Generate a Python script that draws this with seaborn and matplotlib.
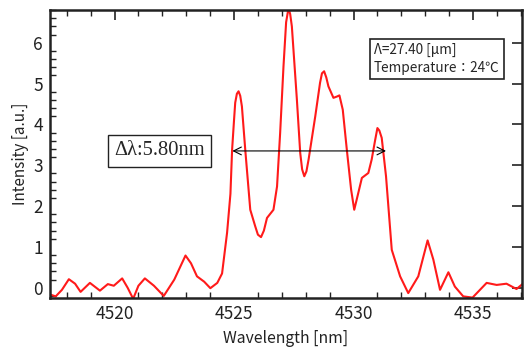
import numpy as np
import pandas as pd
import seaborn as sns
import matplotlib
matplotlib.use("Agg")
import matplotlib.pyplot as plt
from matplotlib.ticker import MultipleLocator

wavelength = [4517.33, 4517.54, 4517.80, 4518.09, 4518.35, 4518.58, 4518.97, 4519.39, 4519.72,
              4519.97, 4520.32, 4520.55, 4520.78, 4521.00, 4521.27, 4521.65, 4522.06, 4522.50,
              4522.97, 4523.20, 4523.45, 4523.75, 4524.01, 4524.30, 4524.50, 4524.71, 4524.85,
              4524.92, 4525.00, 4525.05, 4525.12, 4525.19, 4525.26, 4525.33, 4525.47, 4525.68,
              4525.89, 4526.00, 4526.13, 4526.25, 4526.38,
              4526.65, 4526.80, 4526.93, 4527.07, 4527.18, 4527.28, 4527.35, 4527.42, 4527.63,
              4527.77, 4527.85, 4527.94, 4528.03,
              4528.12, 4528.40, 4528.60, 4528.68, 4528.77, 4528.86, 4528.95, 4529.16, 4529.30,
              4529.41, 4529.55, 4529.72, 4529.90,
              4530.03, 4530.15, 4530.35, 4530.62, 4530.76, 4530.90, 4531.00, 4531.08, 4531.18,
              4531.36, 4531.60, 4531.95,
              4532.29, 4532.71, 4533.10, 4533.34, 4533.62, 4533.97, 4534.24, 4534.59, 4534.98,
              4535.57, 4535.99, 4536.40, 4536.82, 4537.13]
intensity = [-0.17, -0.21, -0.05, 0.21, 0.10, -0.10, 0.12, -0.07, 0.09,
             0.05, 0.23, 0.00, -0.27, 0.05, 0.23, 0.05, -0.20, 0.20,
             0.79, 0.60, 0.28, 0.15, -0.01, 0.12, 0.35, 1.35, 2.30,
             3.38, 4.10, 4.53, 4.75, 4.81, 4.70, 4.44, 3.38, 1.91,
             1.50, 1.30, 1.24, 1.40, 1.71,
             1.91, 2.48, 3.79, 5.42, 6.50, 6.85, 6.70, 6.40, 4.61,
             3.30, 2.90, 2.73, 2.85,
             3.14, 4.20, 5.02, 5.25, 5.30, 5.15, 4.93, 4.65, 4.68,
             4.71, 4.36, 3.38, 2.40,
             1.91, 2.20, 2.69, 2.81, 3.14, 3.60, 3.91, 3.85, 3.67,
             2.73, 0.93, 0.28,
             -0.13, 0.28, 1.16, 0.69, -0.05, 0.38, 0.03, -0.21, -0.24,
             0.12, 0.07, 0.10, -0.03, 0.12]

x_ticks = [4520, 4525, 4530, 4535]
y_ticks = [0, 1, 2, 3, 4, 5, 6]
arrow_start, arrow_end, arrow_y = 4524.93, 4531.36, 3.35
delta_label = "Δλ:5.80nm"
info_label = "Λ=27.40 [μm]\nTemperature：24℃"

sns.set_style("white")
plt.rcParams['font.family'] = ['Noto Sans CJK JP', 'DejaVu Sans']

df = pd.DataFrame({"Wavelength": wavelength, "Intensity": intensity})

fig = plt.figure(figsize=(5.24, 3.51), dpi=100)
ax = fig.add_axes([0.0954, 0.151, 0.9008, 0.8205])
sns.lineplot(data=df, x="Wavelength", y="Intensity", color="#ff1a1a", linewidth=1.5, ax=ax, sort=False)

ax.set_xlim(4517.3, 4537.05)
ax.set_ylim(-0.25, 6.8)
ax.set_xticks(x_ticks)
ax.set_yticks(y_ticks)
ax.xaxis.set_minor_locator(MultipleLocator(1))
ax.yaxis.set_minor_locator(MultipleLocator(0.2))
ax.tick_params(which='major', direction='in', length=7, width=1.2, top=True, right=True,
               labelsize=12.5, colors='#222222', pad=5)
ax.tick_params(which='minor', direction='in', length=4, width=1.0, top=True, right=False, left=True, bottom=True,
               colors='#222222')
for s in ax.spines.values():
    s.set_linewidth(1.8)
    s.set_color('#222222')

ax.set_xlabel("Wavelength [nm]", fontsize=11.3, labelpad=5, color='#222222')
ax.set_ylabel("Intensity [a.u.]", fontsize=11, labelpad=3, color='#222222')

ax.annotate("", xy=(arrow_start, arrow_y), xytext=(arrow_end, arrow_y),
            arrowprops=dict(arrowstyle="<->", color="black", lw=0.8, shrinkA=0, shrinkB=0,
                            mutation_scale=14))
ax.text(4520.0, arrow_y, delta_label, fontsize=14.8, family=['Liberation Serif', 'DejaVu Serif'],
        va='center', ha='left',
        bbox=dict(boxstyle='square,pad=0.3', fc='white', ec='#222222', lw=1.0))
ax.text(4530.86, 5.6, info_label, fontsize=9.8, va='center', ha='left', linespacing=1.3,
        bbox=dict(boxstyle='square,pad=0.3', fc='white', ec='#222222', lw=1.2))

fig.savefig("out.png", dpi=100)
